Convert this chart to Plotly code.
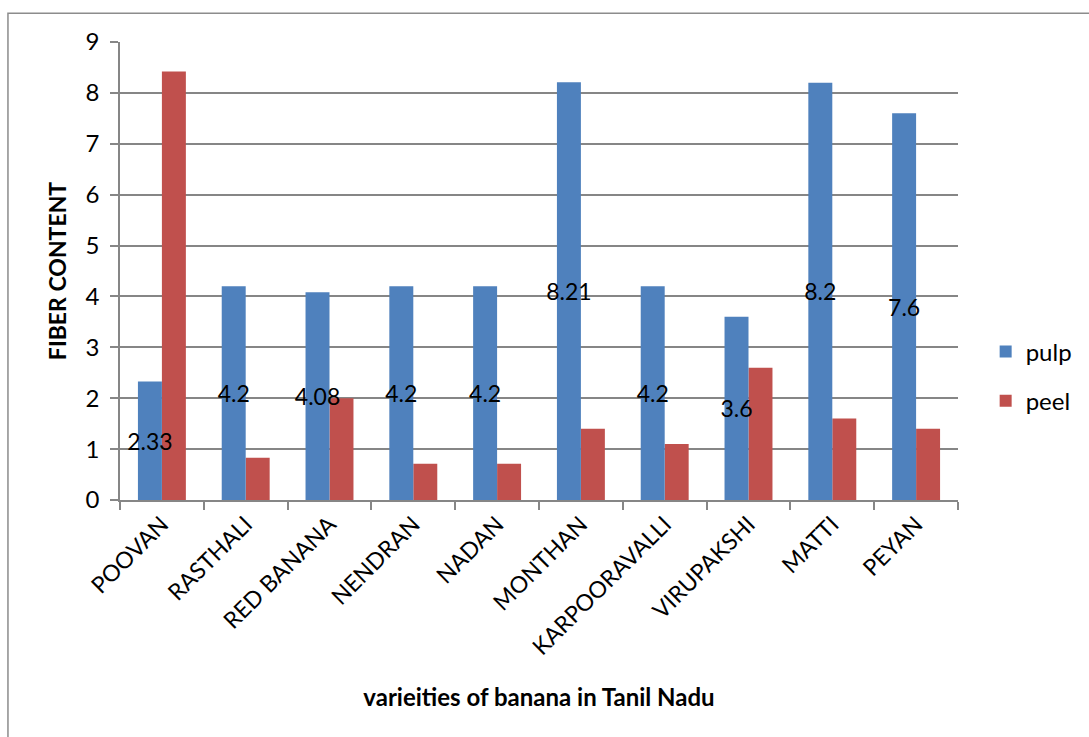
import plotly.graph_objects as go

categories = ["POOVAN", "RASTHALI", "RED BANANA", "NENDRAN", "NADAN", "MONTHAN",
              "KARPOORAVALLI", "VIRUPAKSHI", "MATTI", "PEYAN"]
pulp = [2.33, 4.2, 4.08, 4.2, 4.2, 8.21, 4.2, 3.6, 8.2, 7.6]
peel = [8.42, 0.83, 2.0, 0.71, 0.71, 1.4, 1.1, 2.6, 1.6, 1.4]
y_ticks = [0, 1, 2, 3, 4, 5, 6, 7, 8, 9]

FONT = "Lato, Carlito, Calibri, sans-serif"
BAR_W = 0.286

fig = go.Figure()
# peel drawn first so that pulp value labels sit on top
fig.add_trace(go.Bar(
    x=categories, y=peel, name="peel", legendrank=2, legendgroup="b",
    offset=0, width=BAR_W,
    marker=dict(color="#C0504D", line=dict(width=0)),
))
fig.add_trace(go.Bar(
    x=categories, y=pulp, name="pulp", legendrank=1, legendgroup="a",
    offset=-BAR_W, width=BAR_W,
    marker=dict(color="#4F81BD", line=dict(width=0)),
    text=[str(v) for v in pulp], textposition="inside", insidetextanchor="middle",
    constraintext="none", textangle=0,
    textfont=dict(color="black", size=23, family=FONT),
))

fig.update_layout(
    width=1089, height=737,
    margin=dict(l=120, r=131, t=42, b=237),
    paper_bgcolor="white", plot_bgcolor="white",
    barmode="overlay",
    font=dict(family=FONT, color="black"),
    showlegend=True,
    legend=dict(x=1.033, y=0.27, xanchor="left", yanchor="middle",
                font=dict(size=24, family=FONT), traceorder="grouped", tracegroupgap=15,
                itemwidth=30, bgcolor="rgba(0,0,0,0)"),
    shapes=[dict(type="rect", xref="paper", yref="paper",
                 x0=-0.1337, x1=1.3, y0=-0.6, y1=1.063,
                 line=dict(color="#8c8c8c", width=1.5), layer="below")],
)
fig.update_xaxes(
    showline=True, linecolor="#868686", linewidth=1.5,
    ticks="outside", ticklen=8, tickcolor="#868686", tickwidth=1.5,
    tickson="boundaries", tickangle=-45, automargin=False,
    tickfont=dict(size=23, family=FONT),
    title=dict(text="<b>varieities of banana in Tanil Nadu</b>", font=dict(size=24, family=FONT), standoff=30),
    showgrid=False,
)
fig.update_yaxes(
    range=[0, 9], tickvals=y_ticks, automargin=False,
    showline=True, linecolor="#868686", linewidth=1.5,
    ticks="outside", ticklen=8, tickcolor="#868686", tickwidth=1.5,
    ticklabelstandoff=6,
    showgrid=True, gridcolor="#868686", gridwidth=1.5,
    tickfont=dict(size=24, family=FONT),
    title=dict(text="<b>FIBER CONTENT</b>", font=dict(size=23, family=FONT), standoff=12),
    zeroline=False,
)

fig.write_html("out.html")
